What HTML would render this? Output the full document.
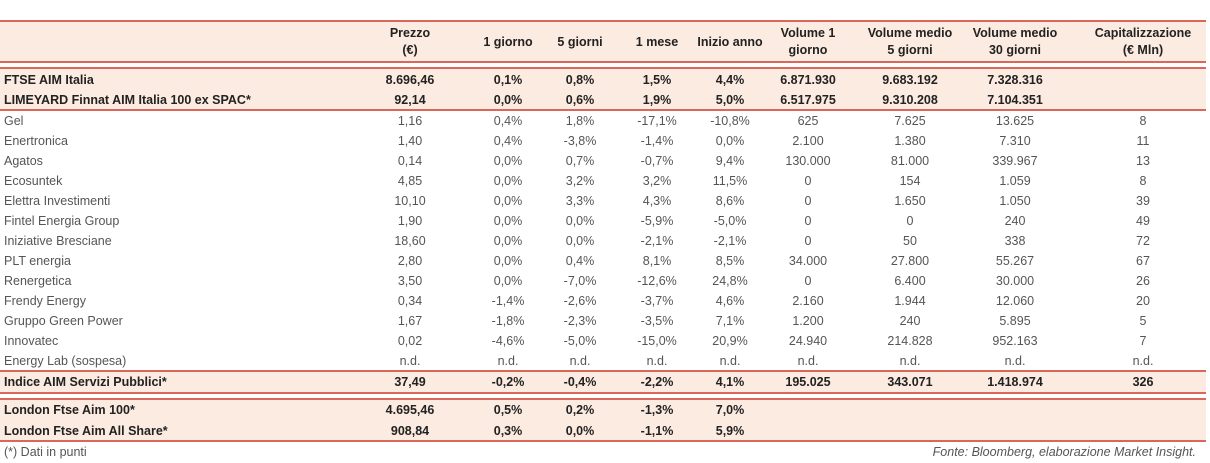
<!DOCTYPE html>
<html><head><meta charset="utf-8"><style>
body{margin:0;width:1210px;height:463px;background:#fff;position:relative;overflow:hidden;font-family:"Liberation Sans","DejaVu Sans",sans-serif;font-size:12.5px;color:#555}
.bg{position:absolute;left:0;width:1206px;background:#fcebe1}
.ln{position:absolute;left:0;width:1206px;height:2px;background:#d9675a}
.r{position:absolute;left:0;width:1206px;height:20px;line-height:20px}
.r span{position:absolute;top:0;text-align:center;width:100px;white-space:nowrap}
.r span:first-child{left:4px;text-align:left;width:380px}
.b{font-weight:bold;color:#222}
.h{position:absolute;top:24px;height:36px;font-weight:bold;color:#222;font-size:12.5px;line-height:17px;text-align:center;display:flex;align-items:center;justify-content:center;width:130px}
</style></head><body>
<div class="bg" style="top:22px;height:40px"></div>
<div class="bg" style="top:69px;height:42px"></div>
<div class="bg" style="top:372px;height:21px"></div>
<div class="bg" style="top:400px;height:41px"></div>
<div class="ln" style="top:20px"></div>
<div class="ln" style="top:61px"></div>
<div class="ln" style="top:67px"></div>
<div class="ln" style="top:109px"></div>
<div class="ln" style="top:370px"></div>
<div class="ln" style="top:392px"></div>
<div class="ln" style="top:398px"></div>
<div class="ln" style="top:440px"></div>
<div class="h" style="left:345px">Prezzo<br>(€)</div>
<div class="h" style="left:443px">1 giorno</div>
<div class="h" style="left:515px">5 giorni</div>
<div class="h" style="left:592px">1 mese</div>
<div class="h" style="left:665px">Inizio anno</div>
<div class="h" style="left:743px">Volume 1<br>giorno</div>
<div class="h" style="left:845px">Volume medio<br>5 giorni</div>
<div class="h" style="left:950px">Volume medio<br>30 giorni</div>
<div class="h" style="left:1078px">Capitalizzazione<br>(€ Mln)</div>
<div id="rows"></div>
<div style="position:absolute;left:4px;top:445px;font-size:12.5px">(*) Dati in punti</div>
<div style="position:absolute;right:14px;top:445px;font-size:12.5px;font-style:italic">Fonte: Bloomberg, elaborazione Market Insight.</div>
<script>
var cx=[0,410,508,580,657,730,808,910,1015,1143];
var d=[
[70,1,"FTSE AIM Italia","8.696,46","0,1%","0,8%","1,5%","4,4%","6.871.930","9.683.192","7.328.316",""],
[90,1,"LIMEYARD Finnat AIM Italia 100 ex SPAC*","92,14","0,0%","0,6%","1,9%","5,0%","6.517.975","9.310.208","7.104.351",""],
[111,0,"Gel","1,16","0,4%","1,8%","-17,1%","-10,8%","625","7.625","13.625","8"],
[131,0,"Enertronica","1,40","0,4%","-3,8%","-1,4%","0,0%","2.100","1.380","7.310","11"],
[151,0,"Agatos","0,14","0,0%","0,7%","-0,7%","9,4%","130.000","81.000","339.967","13"],
[171,0,"Ecosuntek","4,85","0,0%","3,2%","3,2%","11,5%","0","154","1.059","8"],
[191,0,"Elettra Investimenti","10,10","0,0%","3,3%","4,3%","8,6%","0","1.650","1.050","39"],
[211,0,"Fintel Energia Group","1,90","0,0%","0,0%","-5,9%","-5,0%","0","0","240","49"],
[231,0,"Iniziative Bresciane","18,60","0,0%","0,0%","-2,1%","-2,1%","0","50","338","72"],
[251,0,"PLT energia","2,80","0,0%","0,4%","8,1%","8,5%","34.000","27.800","55.267","67"],
[271,0,"Renergetica","3,50","0,0%","-7,0%","-12,6%","24,8%","0","6.400","30.000","26"],
[291,0,"Frendy Energy","0,34","-1,4%","-2,6%","-3,7%","4,6%","2.160","1.944","12.060","20"],
[311,0,"Gruppo Green Power","1,67","-1,8%","-2,3%","-3,5%","7,1%","1.200","240","5.895","5"],
[331,0,"Innovatec","0,02","-4,6%","-5,0%","-15,0%","20,9%","24.940","214.828","952.163","7"],
[351,0,"Energy Lab (sospesa)","n.d.","n.d.","n.d.","n.d.","n.d.","n.d.","n.d.","n.d.","n.d."],
[372,1,"Indice AIM Servizi Pubblici*","37,49","-0,2%","-0,4%","-2,2%","4,1%","195.025","343.071","1.418.974","326"],
[400,1,"London Ftse Aim 100*","4.695,46","0,5%","0,2%","-1,3%","7,0%","","","",""],
[421,1,"London Ftse Aim All Share*","908,84","0,3%","0,0%","-1,1%","5,9%","","","",""]];
var h="";
d.forEach(function(r){h+='<div class="r'+(r[1]?' b':'')+'" style="top:'+r[0]+'px"><span>'+r[2]+'</span>';
for(var i=3;i<12;i++)h+='<span style="left:'+(cx[i-2]-50)+'px">'+r[i]+'</span>';h+='</div>';});
document.getElementById("rows").innerHTML=h;
</script>
</body></html>
